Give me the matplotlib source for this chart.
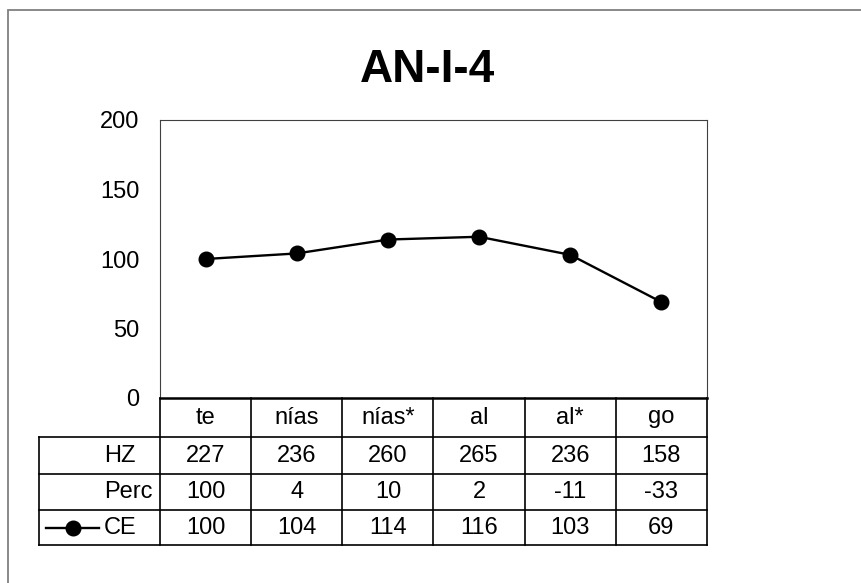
import matplotlib.pyplot as plt
from matplotlib.patches import Rectangle
from matplotlib.lines import Line2D
import matplotlib.transforms as mtransforms

# -------------------------- data --------------------------
title = "AN-I-4"
categories = ["te", "nías", "nías*", "al", "al*", "go"]
hz_values = [227, 236, 260, 265, 236, 158]
perc_values = [100, 4, 10, 2, -11, -33]
ce_values = [100, 104, 114, 116, 103, 69]
row_labels = ["HZ", "Perc", "CE"]
y_ticks = [0, 50, 100, 150, 200]

plt.rcParams['font.family'] = ['Liberation Sans', 'DejaVu Sans']
FS = 17

W, H = 862, 583
fig = plt.figure(figsize=(W / 100, H / 100), dpi=100)

# plot area in pixels: x 160..707, y 120..398
L, R, T, B = 160, 707, 120, 398
ax = fig.add_axes([L / W, 1 - B / H, (R - L) / W, (B - T) / H])

x = list(range(len(categories)))
ax.plot(x, ce_values, color="black", linewidth=1.7, marker="o",
        markersize=10.5, markerfacecolor="black", markeredgecolor="black",
        clip_on=False)

ax.set_xlim(-0.5, len(categories) - 0.5)
ax.set_ylim(0, 200)
ax.set_yticks(y_ticks)
ax.set_xticks([])
ax.tick_params(axis="y", length=0, pad=15, labelsize=FS)
for s in ["top", "right", "left"]:
    ax.spines[s].set_linewidth(0.8)
    ax.spines[s].set_color("#404040")
ax.spines["bottom"].set_linewidth(1.8)
ax.spines["bottom"].set_color("black")

fig.text(427 / W, 1 - 70 / H, title, ha="center", va="center",
         fontsize=33, fontweight="bold")

# -------------------------- data table --------------------------
trans = mtransforms.blended_transform_factory(ax.transData, ax.transAxes)
ph = B - T
col_px = (R - L) / len(categories)
row_px = [398, 437, 474, 510, 545]
row_y = [-(p - B) / ph for p in row_px]
label_left = -0.5 - (L - 39) / col_px
xr = len(categories) - 0.5
lw = 1.2

def hline(x0, x1, y, w=lw):
    ax.add_line(Line2D([x0, x1], [y, y], transform=trans, color="black",
                       linewidth=w, clip_on=False))

def vline(xv, y0, y1, w=lw):
    ax.add_line(Line2D([xv, xv], [y0, y1], transform=trans, color="black",
                       linewidth=w, clip_on=False))

# category row
for i in range(len(categories) + 1):
    vline(i - 0.5, row_y[0], row_y[-1])
for i, c in enumerate(categories):
    ax.text(i, (row_y[0] + row_y[1]) / 2, c, transform=trans, ha="center",
            va="center", fontsize=FS)
# data rows
for y in row_y[1:]:
    hline(label_left, xr, y)
vline(label_left, row_y[1], row_y[-1])

rows = [hz_values, perc_values, ce_values]
label_x = label_left + (104 - 39) / col_px
for r, (lab, vals) in enumerate(zip(row_labels, rows)):
    yc = (row_y[r + 1] + row_y[r + 2]) / 2
    ax.text(label_x, yc, lab, transform=trans, ha="left", va="center",
            fontsize=FS)
    for i, v in enumerate(vals):
        ax.text(i, yc, str(v), transform=trans, ha="center", va="center",
                fontsize=FS)

# legend key in CE row
ce_y = (row_y[3] + row_y[4]) / 2
x0 = label_left + (46 - 39) / col_px
x1 = label_left + (99 - 39) / col_px
ax.add_line(Line2D([x0, x1], [ce_y, ce_y], transform=trans, color="black",
                   linewidth=1.7, clip_on=False))
ax.add_line(Line2D([(x0 + x1) / 2], [ce_y], transform=trans, marker="o",
                   markersize=10.5, color="black", clip_on=False))

# outer chart border (cropped)
fig.patches.append(Rectangle((8 / W, -0.1), 1.2, 1 - 10 / H + 0.1,
                             transform=fig.transFigure, fill=False,
                             edgecolor="#808080", linewidth=1.3))

plt.savefig("out.png", dpi=100)
